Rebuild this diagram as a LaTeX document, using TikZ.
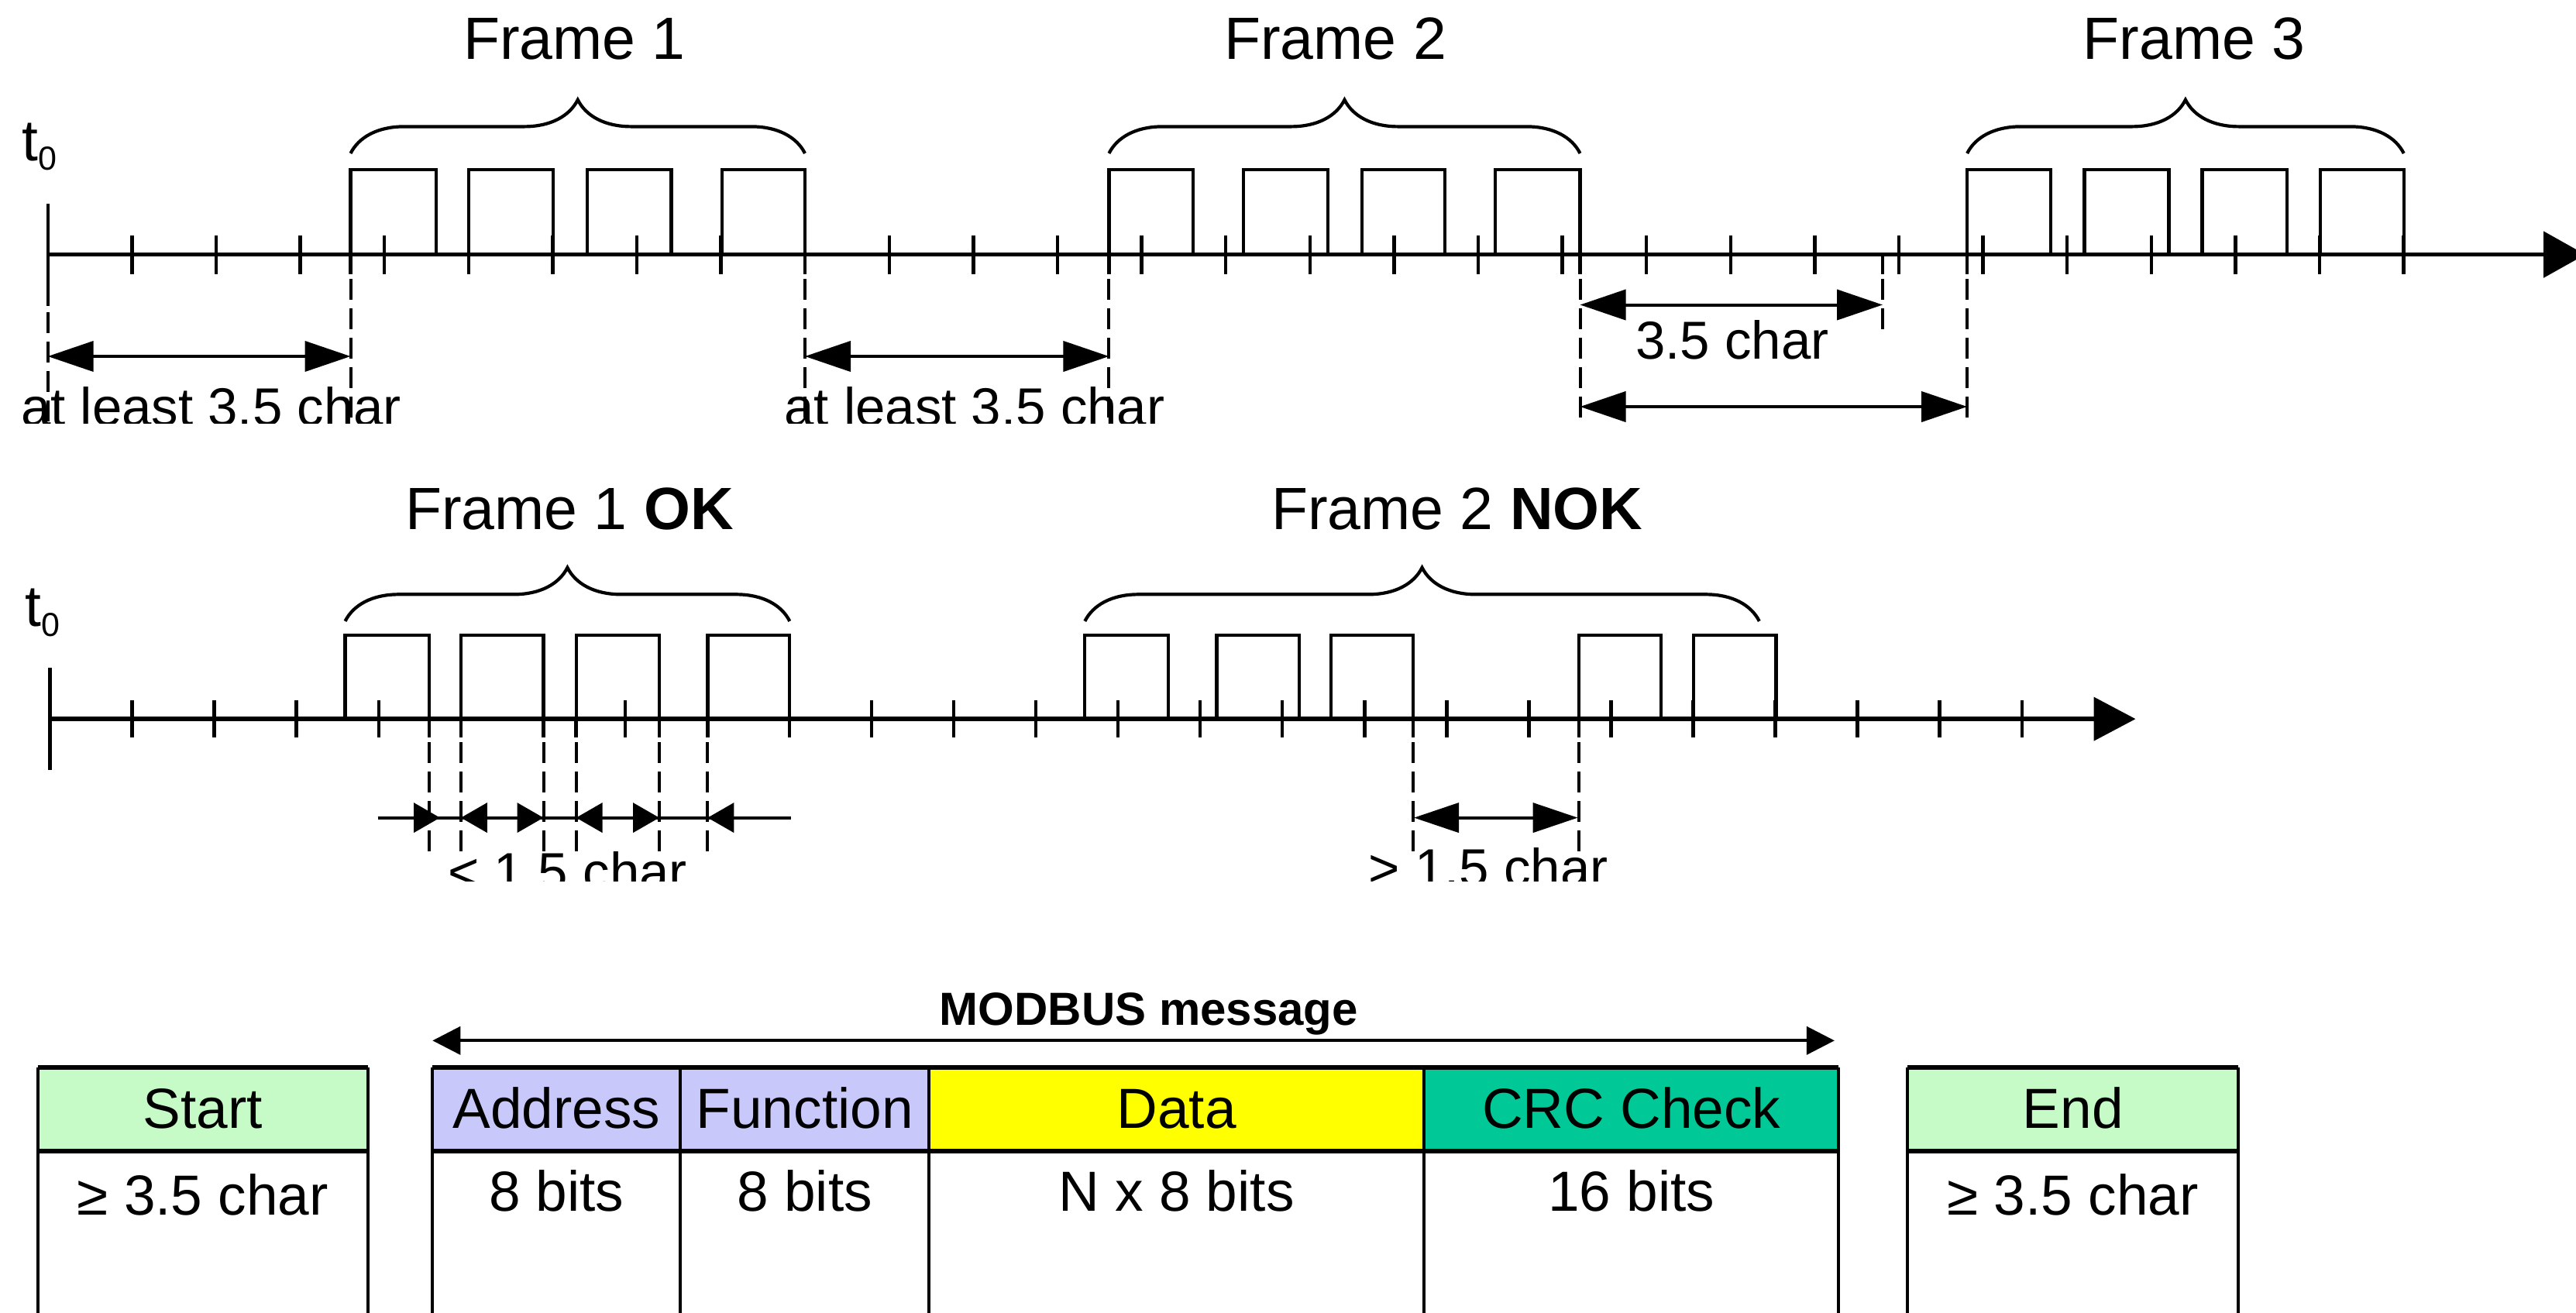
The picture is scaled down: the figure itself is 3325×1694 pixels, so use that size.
\documentclass[tikz,border=0pt]{standalone}
\usepackage{fontspec}
\setmainfont{Liberation Sans}
\usetikzlibrary{arrows.meta,decorations.pathreplacing}
\newcommand\fs[1]{\fontsize{#1}{#1}\selectfont}
\definecolor{startg}{RGB}{198,250,198}
\definecolor{addrp}{RGB}{200,200,250}
\definecolor{datay}{RGB}{255,255,0}
\definecolor{crcg}{RGB}{0,200,150}
\begin{document}
\begin{tikzpicture}[x=0.25pt,y=-0.25pt,
  axisl/.style={line width=1.4pt},
  tickl/.style={line width=1.1pt},
  pulse/.style={line width=1.05pt, line join=miter},
  dashl/.style={line width=1pt, dash pattern=on 6.75pt off 2.75pt},
  bigtip/.tip={Triangle[length=14.75pt,width=9.75pt]},
  smalltip/.tip={Triangle[length=8.5pt,width=9.5pt]},
  midtip/.tip={Triangle[length=14.5pt,width=9.5pt]},
  msgtip/.tip={Triangle[length=9pt,width=9pt]},
  dim/.style={line width=1pt, bigtip-bigtip},
  bracel/.style={line width=1.05pt, decorate, decoration={brace, amplitude=17.3pt}},
  lbl/.style={anchor=base, inner sep=0pt},
  frlbl/.style={lbl, font=\fs{19.25}},
  dimlbl/.style={lbl, font=\fs{17.25}},
  tbl/.style={lbl, font=\fs{18.25}},
  thick6/.style={line width=1.5pt},
  thin4/.style={line width=1pt},
]
\useasboundingbox (0,0) rectangle (3325,1694);
\clip (0,0) rectangle (3325,1694);

% ================= timeline 1 =================
\begin{scope}
\clip (0,0) rectangle (3325,546);
\coordinate (a0) at (61.7,328.6);
\coordinate (aend) at (3337,328.6);
\draw[axisl,-{Triangle[length=13.5pt,width=14.75pt]}] (a0) -- (aend);
\foreach \k in {1,...,28} \draw[tickl] ({61.7+108.6*\k},303.6) -- ({61.7+108.6*\k},353.6);
% pulses
\foreach \p/\q in {452.5/562.6,604.7/714.1,757.6/866.4,931.6/1039,
                   1431.4/1540.2,1604.7/1714.1,1757.6/1865,1930.2/2039.5,
                   2539.1/2647.3,2690.4/2799.4,2842.5/2952.3,2994.6/3102.7}
  \draw[pulse] (\p,328.6) -- (\p,218.6) -- (\q,218.6) -- (\q,328.6);
% braces
\draw[bracel] (452.5,198) -- (1039,198);
\draw[bracel] (1431.4,198) -- (2039.5,198);
\draw[bracel] (2539.1,198) -- (3102.7,198);
\node[frlbl] (f1) at (741.5,76.8) {Frame 1};
\node[frlbl] (f2) at (1723.6,76.8) {Frame 2};
\node[frlbl] (f3) at (2832,76.8) {Frame 3};
% t0
\node[lbl, anchor=base west] (t0a) at (28,207) {\fs{18.75}t\raisebox{-3.15pt}{\fs{10.75}0}};
\draw[tickl] (61.7,262.5) -- (61.7,395);
\draw[dashl] (61.7,403) -- (61.7,550);
% frame boundary dashed lines
\foreach \x in {452.5,1039,1431.4,2039.5,2539.1} {
  \draw[tickl] (\x,328.6) -- (\x,353.6);
  \draw[dashl] (\x,360) -- (\x,550);
}
\draw[tickl] (2430,328.6) -- (2430,353.6);
\draw[dashl] (2430,360) -- (2430,430);
% dimension arrows
\coordinate (d1a) at (61.7,460); \coordinate (d1b) at (452.5,460);
\coordinate (d2a) at (1039,460); \coordinate (d2b) at (1431.4,460);
\coordinate (d3a) at (2039.5,393.5); \coordinate (d3b) at (2430,393.5);
\coordinate (d4a) at (2039.5,525); \coordinate (d4b) at (2539.1,525);
\draw[dim] (d1a) -- (d1b);
\draw[dim] (d2a) -- (d2b);
\draw[dim] (d3a) -- (d3b);
\draw[dim] (d4a) -- (d4b);
\node[dimlbl] (g1) at (272.5,549.5) {at least 3.5 char};
\node[dimlbl] (g2) at (1257.8,549.5) {at least 3.5 char};
\node[dimlbl] (g3) at (2235.8,463.5) {3.5 char};
\end{scope}

% ================= timeline 2 =================
\begin{scope}
\clip (0,546) rectangle (3325,1137);
\coordinate (b0) at (64.5,928.1);
\coordinate (bend) at (2756.5,928.1);
\draw[axisl,-{Triangle[length=13.5pt,width=13.9pt]}] (b0) -- (bend);
\foreach \k in {1,...,24} \draw[tickl] ({64.5+106.05*\k},904.4) -- ({64.5+106.05*\k},952.3);
\foreach \p/\q in {445.5/554.2,594.9/701.5,743.6/851,913.4/1019.3,
                   1400.3/1507.6,1570.5/1676.8,1718/1824.2,2037.8/2144,2186.3/2292.5}
  \draw[pulse] (\p,928.1) -- (\p,820.2) -- (\q,820.2) -- (\q,928.1);
\draw[bracel] (445.5,801.9) -- (1019.3,801.9);
\draw[bracel] (1400.3,801.9) -- (2270.8,801.9);
\node[frlbl] (f1ok) at (734.8,683.2) {Frame 1 \textbf{OK}};
\node[frlbl] (f2nok) at (1880.6,683.2) {Frame 2 \textbf{NOK}};
\node[lbl, anchor=base west] (t0b) at (32,808.7) {\fs{18.75}t\raisebox{-3.15pt}{\fs{10.75}0}};
\draw[tickl] (64.5,862.3) -- (64.5,994.4);
\foreach \x in {554.2,594.9,701.5,743.6,851,913.4,1824.2,2037.8} {
  \draw[tickl] (\x,928.1) -- (\x,952.3);
  \draw[dashl] (\x,958) -- (\x,1100);
}
% < 1.5 char arrows
\coordinate (s0) at (487.5,1055.6); \coordinate (s7) at (1020.7,1055.6);
\coordinate (s1) at (568,1055.6);
\coordinate (s2) at (594.9,1055.6); \coordinate (s3) at (701.5,1055.6);
\coordinate (s4) at (743.6,1055.6); \coordinate (s5) at (851,1055.6);
\coordinate (s6) at (913.4,1055.6);
\draw[thin4] (s0) -- (s7);
\draw[thin4,-smalltip] (s0) -- (s1);
\draw[thin4,smalltip-smalltip] (s2) -- (s3);
\draw[thin4,smalltip-smalltip] (s4) -- (s5);
\draw[thin4,smalltip-] (s6) -- (s7);
\node[dimlbl] (lt) at (732.4,1149.5) {< 1.5 char};
% > 1.5 char
\coordinate (m1) at (1825,1055.6); \coordinate (m2) at (2036.5,1055.6);
\draw[thin4,midtip-midtip] (m1) -- (m2);
\node[dimlbl] (gt) at (1921,1144.5) {> 1.5 char};
\end{scope}

% ================= message table =================
\node[lbl, font=\bfseries\fs{15}] (msg) at (1483,1323.3) {MODBUS message};
\coordinate (ma) at (558.3,1343.3); \coordinate (mb) at (2367.9,1343.3);
\draw[line width=1pt, msgtip-msgtip] (ma) -- (mb);

\fill[startg] (48.8,1378.3) rectangle (474.8,1486);
\fill[addrp] (558.3,1378.3) rectangle (1199.1,1486);
\fill[datay] (1199.1,1378.3) rectangle (1838,1486);
\fill[crcg] (1838,1378.3) rectangle (2373.3,1486);
\fill[startg] (2462,1378.3) rectangle (2889.3,1486);
\foreach \x in {48.8,474.8,558.3,878.2,1199.1,1838,2373.3,2462,2889.3}
  \draw[thin4] (\x,1378.3) -- (\x,1700);
\foreach \a/\b in {48.8/474.8,558.3/2373.3,2462/2889.3} {
  \draw[thick6] (\a,1378.3) -- (\b,1378.3);
  \draw[thick6] (\a,1486) -- (\b,1486);
}
\node[tbl] (hs) at (261.8,1456.7) {Start};
\node[tbl] (ha) at (718.3,1456.7) {Address};
\node[tbl] (hf) at (1038.7,1456.7) {Function};
\node[tbl] (hd) at (1518.5,1456.7) {Data};
\node[tbl] (hc) at (2105.7,1456.7) {CRC Check};
\node[tbl] (he) at (2675.7,1456.7) {End};
\node[tbl] (bs) at (261.8,1568) {≥ 3.5 char};
\node[tbl] (ba) at (718.3,1563.3) {8 bits};
\node[tbl] (bf) at (1038.7,1563.3) {8 bits};
\node[tbl] (bd) at (1518.5,1563.3) {N x 8 bits};
\node[tbl] (bc) at (2105.7,1563.3) {16 bits};
\node[tbl] (be) at (2675.7,1568) {≥ 3.5 char};
\end{tikzpicture}
\end{document}
